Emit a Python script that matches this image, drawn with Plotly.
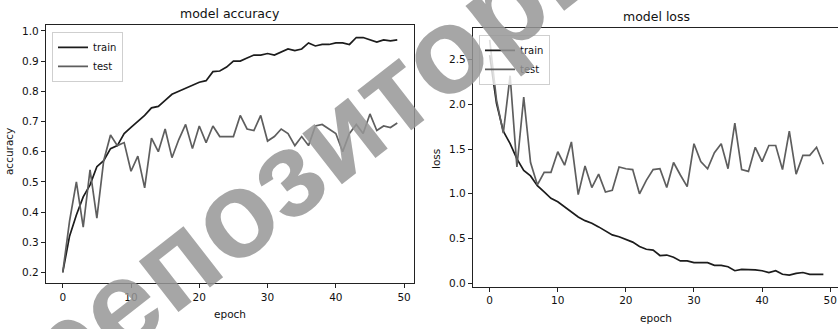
import plotly.graph_objects as go

epochs = list(range(50))

acc_train = [0.20, 0.32, 0.39, 0.45, 0.49, 0.55, 0.57, 0.61, 0.62, 0.66,
             0.68, 0.70, 0.72, 0.745, 0.75, 0.77, 0.79, 0.80, 0.81, 0.82,
             0.83, 0.835, 0.865, 0.867, 0.88, 0.90, 0.90, 0.91, 0.92, 0.92,
             0.925, 0.92, 0.93, 0.94, 0.935, 0.94, 0.96, 0.95, 0.955, 0.955,
             0.96, 0.96, 0.955, 0.978, 0.978, 0.97, 0.963, 0.97, 0.967, 0.97]

acc_test = [0.20, 0.37, 0.50, 0.35, 0.54, 0.38, 0.57, 0.655, 0.62, 0.63,
            0.535, 0.585, 0.48, 0.645, 0.60, 0.675, 0.58, 0.64, 0.69, 0.61,
            0.685, 0.63, 0.685, 0.65, 0.65, 0.65, 0.72, 0.675, 0.67, 0.72,
            0.635, 0.65, 0.675, 0.66, 0.62, 0.65, 0.62, 0.685, 0.69, 0.675,
            0.66, 0.60, 0.66, 0.69, 0.66, 0.725, 0.67, 0.685, 0.68, 0.695]

loss_train = [2.55, 2.01, 1.70, 1.56, 1.39, 1.26, 1.20, 1.09, 1.02, 0.95,
              0.91, 0.85, 0.80, 0.74, 0.70, 0.67, 0.63, 0.58, 0.54, 0.52,
              0.49, 0.46, 0.41, 0.38, 0.37, 0.31, 0.315, 0.29, 0.25, 0.25,
              0.23, 0.23, 0.23, 0.20, 0.20, 0.185, 0.14, 0.155, 0.155, 0.15,
              0.14, 0.12, 0.14, 0.10, 0.09, 0.11, 0.12, 0.10, 0.10, 0.10]

loss_test = [2.72, 2.05, 1.68, 2.32, 1.30, 2.08, 1.35, 1.10, 1.24, 1.24,
             1.47, 1.32, 1.58, 0.99, 1.31, 1.07, 1.22, 1.02, 1.04, 1.30,
             1.28, 1.27, 1.00, 1.15, 1.27, 1.28, 1.07, 1.35, 1.21, 1.08,
             1.56, 1.36, 1.28, 1.46, 1.56, 1.28, 1.79, 1.27, 1.25, 1.52,
             1.36, 1.54, 1.54, 1.27, 1.70, 1.22, 1.43, 1.43, 1.52, 1.33]

acc_ticks = [0.2, 0.3, 0.4, 0.5, 0.6, 0.7, 0.8, 0.9, 1.0]
loss_ticks = [0.0, 0.5, 1.0, 1.5, 2.0, 2.5]
epoch_ticks = [0, 10, 20, 30, 40, 50]

W, H = 838, 329
TRAIN_C = "#1c1c1c"
TEST_C = "#5e5e5e"
FONT = "DejaVu Sans"

fig = go.Figure()
fig.add_trace(go.Scatter(x=epochs, y=acc_train, mode="lines", name="train",
                         line=dict(color=TRAIN_C, width=1.7), xaxis="x", yaxis="y", legend="legend"))
fig.add_trace(go.Scatter(x=epochs, y=acc_test, mode="lines", name="test",
                         line=dict(color=TEST_C, width=1.7), xaxis="x", yaxis="y", legend="legend"))
fig.add_trace(go.Scatter(x=epochs, y=loss_train, mode="lines", name="train",
                         line=dict(color=TRAIN_C, width=1.7), xaxis="x2", yaxis="y2", legend="legend2"))
fig.add_trace(go.Scatter(x=epochs, y=loss_test, mode="lines", name="test",
                         line=dict(color=TEST_C, width=1.7), xaxis="x2", yaxis="y2", legend="legend2"))

def px_x(p):
    return p / W

def px_y(p):
    return 1 - p / H

axis_common = dict(showgrid=False, zeroline=False, showline=True, linecolor="#222",
                   linewidth=1.2, ticks="outside", ticklen=4, tickwidth=1, tickcolor="#222",
                   tickfont=dict(family=FONT, size=10.5, color="#111"))

legend_common = dict(bgcolor="rgba(255,255,255,0.8)", bordercolor="#cfcfcf", borderwidth=1,
                     font=dict(family=FONT, size=10, color="#111"), xanchor="left", yanchor="top",
                     tracegroupgap=0, itemwidth=30)

fig.update_layout(
    width=W, height=H,
    margin=dict(l=0, r=0, t=0, b=0),
    paper_bgcolor="white", plot_bgcolor="white",
    showlegend=True,
    xaxis=dict(domain=[px_x(46), px_x(414)], range=[-2.45, 51.45], tickvals=epoch_ticks,
               anchor="y", mirror=True, **axis_common),
    yaxis=dict(domain=[px_y(285), px_y(25)], range=[0.164, 1.020], tickvals=acc_ticks,
               tickformat=".1f", anchor="x", mirror=True, **axis_common),
    xaxis2=dict(domain=[px_x(473), 1.0], range=[-2.45, 51.15], tickvals=epoch_ticks,
                anchor="y2", mirror=True, **axis_common),
    yaxis2=dict(domain=[px_y(288.3), px_y(28.3)], range=[-0.037, 2.852], tickvals=loss_ticks,
                tickformat=".1f", anchor="x2", mirror=False, **axis_common),
    legend=dict(x=px_x(52), y=px_y(32), **legend_common),
    legend2=dict(x=px_x(479), y=px_y(35), **legend_common),
)

def label(text, x, y, size, angle=0):
    fig.add_annotation(text=text, x=px_x(x), y=px_y(y), xref="paper", yref="paper",
                       showarrow=False, textangle=angle, xanchor="center", yanchor="middle",
                       font=dict(family=FONT, size=size, color="#111"))

label("model accuracy", 230, 14, 12.5)
label("model loss", 656, 17, 12.5)
label("epoch", 230, 316, 10.5)
label("epoch", 656, 320, 10.5)
label("accuracy", 9, 153, 10.5, -90)
label("loss", 436, 160, 10.5, -90)

# watermark
fig.add_annotation(text="репозиторий", x=px_x(342), y=px_y(132), xref="paper", yref="paper",
                   showarrow=False, textangle=-38, xanchor="center", yanchor="middle",
                   font=dict(family="Liberation Sans", size=122,
                             color="rgba(150,150,150,0.85)", weight="bold"))

fig.write_html("out.html", config={"displayModeBar": False},
               post_script="document.body.style.margin='0';")
